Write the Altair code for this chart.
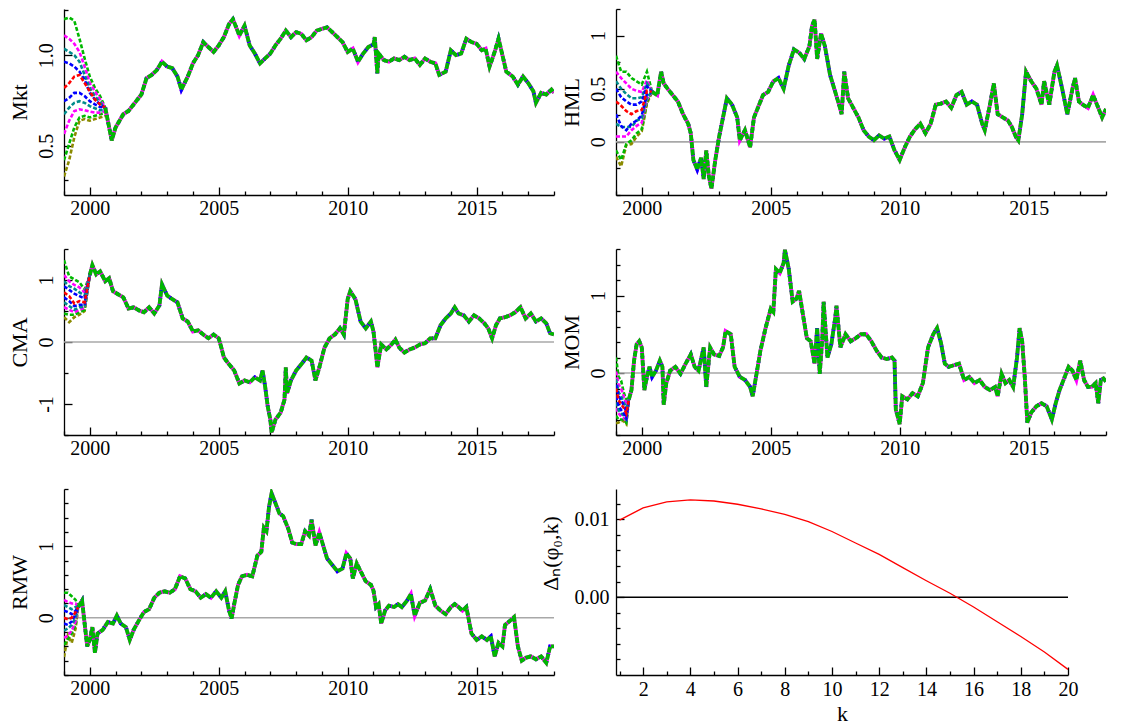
import altair as alt
import pandas as pd

FONT = "Liberation Serif"
GREEN = "#00b800"
MAGENTA = "#ff00ff"
TEAL = "#008b8b"
BLUE = "#0000ff"
RED = "#ff0000"
OLIVE = "#8b8b00"

# ---------------- Mkt ----------------
mkt_t = [2000.6, 2000.85, 2001.0, 2001.3, 2001.5, 2001.8, 2002.0, 2002.2, 2002.4, 2002.6, 2002.8, 2003.0, 2003.2,
         2003.4, 2003.55, 2003.8, 2004.0, 2004.2, 2004.4, 2004.6, 2004.8, 2005.0, 2005.2, 2005.4, 2005.55, 2005.8,
         2006.0, 2006.2, 2006.4, 2006.6, 2006.8, 2007.0, 2007.2, 2007.4, 2007.6, 2007.8, 2008.0, 2008.2, 2008.4,
         2008.6, 2008.8, 2009.0, 2009.2, 2009.4, 2009.6, 2009.8, 2010.0, 2010.2, 2010.4, 2010.6, 2010.8, 2011.0,
         2011.05, 2011.15, 2011.2, 2011.4, 2011.6, 2011.8, 2012.0, 2012.2, 2012.4, 2012.6, 2012.8, 2013.0, 2013.2,
         2013.4, 2013.55, 2013.8, 2014.0, 2014.2, 2014.4, 2014.6, 2014.8, 2015.0, 2015.2, 2015.35, 2015.5, 2015.7,
         2015.85, 2016.0, 2016.15, 2016.4, 2016.6, 2016.8, 2017.0, 2017.2, 2017.3, 2017.5, 2017.7, 2017.9, 2018.0]
mkt_v = [0.710, 0.529, 0.601, 0.674, 0.692, 0.746, 0.783, 0.873, 0.891, 0.918, 0.964, 0.937, 0.928,
         0.882, 0.810, 0.882, 0.955, 1.000, 1.072, 1.045, 1.018, 1.054, 1.100, 1.172, 1.199, 1.109,
         1.163, 1.054, 1.009, 0.955, 0.982, 1.009, 1.054, 1.091, 1.136, 1.100, 1.127, 1.118, 1.082,
         1.100, 1.136, 1.145, 1.154, 1.127, 1.100, 1.072, 1.018, 1.036, 0.964, 1.009, 1.045, 1.060,
         1.100, 0.900, 1.009, 0.973, 0.964, 0.982, 0.973, 0.991, 0.973, 0.982, 0.946, 0.982, 0.964,
         0.955, 0.891, 0.909, 1.027, 1.000, 1.009, 1.091, 1.072, 1.063, 1.027, 1.036, 0.937, 1.018,
         1.091, 1.000, 0.909, 0.882, 0.837, 0.882, 0.846, 0.801, 0.737, 0.792, 0.783, 0.810, 0.792]
mkt_early_t = [1999.0, 1999.2, 1999.4, 1999.6, 1999.8, 2000.0, 2000.2, 2000.4, 2000.6]
mkt_green_hi = [1.199, 1.208, 1.190, 1.091, 0.982, 0.882, 0.819, 0.774, 0.710]
mkt_magenta_hi = [1.109, 1.091, 1.063, 1.018, 0.937, 0.846, 0.801, 0.755, 0.710]
mkt_teal_hi = [1.036, 1.018, 1.000, 0.964, 0.891, 0.819, 0.774, 0.737, 0.710]
mkt_blue_hi = [0.964, 0.955, 0.937, 0.909, 0.864, 0.792, 0.755, 0.728, 0.710]
mkt_red = [0.819, 0.846, 0.882, 0.891, 0.846, 0.801, 0.755, 0.728, 0.710]
mkt_blue_lo = [0.746, 0.764, 0.792, 0.792, 0.774, 0.746, 0.728, 0.714, 0.710]
mkt_teal_lo = [0.674, 0.710, 0.737, 0.746, 0.737, 0.719, 0.707, 0.696, 0.696]
mkt_magenta_lo = [0.565, 0.638, 0.692, 0.701, 0.696, 0.688, 0.683, 0.683, 0.692]
mkt_green_lo = [0.420, 0.511, 0.601, 0.656, 0.665, 0.656, 0.665, 0.674, 0.683]
mkt_olive = [0.330, 0.420, 0.547, 0.638, 0.647, 0.638, 0.647, 0.656, 0.665]

# ---------------- HML ----------------
hml_t = [2000.4, 2000.6, 2000.75, 2000.85, 2001.0, 2001.2, 2001.4, 2001.6, 2001.8, 2001.9, 2002.0, 2002.15, 2002.3,
         2002.4, 2002.5, 2002.6, 2002.7, 2002.85, 2003.0, 2003.2, 2003.3, 2003.5, 2003.7, 2003.8, 2004.0, 2004.2,
         2004.35, 2004.5, 2004.7, 2004.9, 2005.1, 2005.3, 2005.5, 2005.7, 2005.9, 2006.1, 2006.3, 2006.5, 2006.6,
         2006.7, 2006.8, 2006.95, 2007.1, 2007.3, 2007.5, 2007.65, 2007.75, 2007.85, 2008.0, 2008.2, 2008.4,
         2008.6, 2008.8, 2009.0, 2009.2, 2009.4, 2009.6, 2009.8, 2010.0, 2010.2, 2010.4, 2010.6, 2010.8, 2011.0,
         2011.2, 2011.4, 2011.6, 2011.8, 2012.0, 2012.2, 2012.4, 2012.6, 2012.8, 2013.0, 2013.2, 2013.3, 2013.5,
         2013.65, 2013.8, 2014.0, 2014.2, 2014.35, 2014.5, 2014.6, 2014.75, 2014.9, 2015.1, 2015.3, 2015.5,
         2015.6, 2015.8, 2016.0, 2016.1, 2016.3, 2016.5, 2016.7, 2016.8, 2016.95, 2017.1, 2017.3, 2017.5,
         2017.7, 2017.85, 2018.0]
hml_v = [0.47, 0.44, 0.66, 0.55, 0.50, 0.44, 0.38, 0.26, 0.17, 0.08, -0.17, -0.26, -0.15,
         -0.35, -0.08, -0.32, -0.44, -0.17, 0.05, 0.29, 0.41, 0.35, 0.23, 0.015, 0.11, -0.05,
         0.23, 0.32, 0.44, 0.47, 0.57, 0.60, 0.50, 0.72, 0.87, 0.84, 0.78, 0.90, 1.09,
         1.15, 0.78, 1.02, 0.90, 0.63, 0.47, 0.35, 0.26, 0.66, 0.41, 0.32, 0.23,
         0.11, 0.05, 0.015, 0.06, 0.03, 0.05, -0.08, -0.17, -0.05, 0.05, 0.12, 0.17, 0.08,
         0.17, 0.35, 0.36, 0.38, 0.32, 0.44, 0.47, 0.35, 0.38, 0.35, 0.17, 0.11, 0.35,
         0.55, 0.26, 0.23, 0.20, 0.14, 0.05, 0.015, 0.26, 0.66, 0.57, 0.50, 0.35,
         0.57, 0.35, 0.66, 0.72, 0.50, 0.26, 0.50, 0.60, 0.38, 0.35, 0.32, 0.44,
         0.32, 0.23, 0.31]
hml_early_t = [1999.0, 1999.2, 1999.4, 1999.6, 1999.8, 2000.0, 2000.2, 2000.4]
hml_green_hi = [0.81, 0.66, 0.66, 0.60, 0.57, 0.54, 0.66, 0.47]
hml_magenta_hi = [0.66, 0.60, 0.55, 0.50, 0.48, 0.47, 0.58, 0.47]
hml_teal_hi = [0.57, 0.50, 0.45, 0.41, 0.41, 0.42, 0.55, 0.47]
hml_blue_hi = [0.50, 0.42, 0.38, 0.35, 0.35, 0.38, 0.52, 0.47]
hml_red = [0.38, 0.34, 0.29, 0.26, 0.29, 0.30, 0.48, 0.47]
hml_blue_lo = [0.26, 0.15, 0.11, 0.17, 0.20, 0.25, 0.45, 0.47]
hml_teal_lo = [0.17, 0.14, 0.14, 0.14, 0.20, 0.22, 0.42, 0.47]
hml_magenta_lo = [0.05, 0.05, 0.05, 0.11, 0.15, 0.18, 0.40, 0.47]
hml_green_lo = [-0.08, -0.17, -0.02, 0.015, 0.08, 0.12, 0.38, 0.47]
hml_olive = [-0.14, -0.23, -0.03, -0.02, 0.05, 0.10, 0.36, 0.47]

# ---------------- CMA ----------------
cma_t = [2000.0, 2000.1, 2000.25, 2000.4, 2000.6, 2000.75, 2000.9, 2001.1, 2001.3, 2001.5, 2001.7, 2001.9, 2002.1,
         2002.3, 2002.5, 2002.7, 2002.8, 2003.0, 2003.2, 2003.4, 2003.6, 2003.8, 2004.0, 2004.2, 2004.4, 2004.6,
         2004.8, 2005.0, 2005.1, 2005.2, 2005.4, 2005.6, 2005.8, 2006.0, 2006.2, 2006.4, 2006.6, 2006.7, 2006.8,
         2006.9, 2007.0, 2007.05, 2007.2, 2007.4, 2007.55, 2007.6, 2007.65, 2007.8, 2008.0, 2008.2, 2008.4,
         2008.6, 2008.75, 2008.9, 2009.1, 2009.3, 2009.5, 2009.7, 2009.85, 2010.0, 2010.1, 2010.3, 2010.5,
         2010.7, 2010.9, 2011.0, 2011.1, 2011.15, 2011.3, 2011.5, 2011.7, 2011.85, 2012.0, 2012.2, 2012.4,
         2012.6, 2012.8, 2013.0, 2013.2, 2013.4, 2013.6, 2013.8, 2014.0, 2014.15, 2014.3, 2014.5, 2014.7,
         2014.9, 2015.1, 2015.3, 2015.45, 2015.6, 2015.75, 2015.9, 2016.1, 2016.3, 2016.5, 2016.7, 2016.9,
         2017.1, 2017.3, 2017.5, 2017.7, 2017.85, 2018.0]
cma_v = [1.08, 1.24, 1.09, 1.14, 0.98, 1.03, 0.82, 0.77, 0.72, 0.54, 0.56, 0.51, 0.48,
         0.56, 0.46, 0.59, 0.93, 0.75, 0.69, 0.64, 0.38, 0.33, 0.17, 0.19, 0.12, 0.06,
         0.12, 0.06, -0.09, -0.25, -0.36, -0.46, -0.67, -0.62, -0.65, -0.57, -0.62, -0.46, -0.72,
         -1.04, -1.25, -1.46, -1.25, -1.14, -0.93, -0.41, -0.83, -0.62, -0.46, -0.36, -0.25,
         -0.30, -0.62, -0.41, -0.09, 0.06, 0.12, 0.22, 0.12, 0.69, 0.82, 0.69, 0.33,
         0.22, 0.33, 0.17, -0.20, -0.41, -0.04, -0.12, -0.04, 0.04, -0.09, -0.17, -0.12,
         -0.09, -0.04, -0.02, 0.06, 0.06, 0.27, 0.38, 0.46, 0.56, 0.46, 0.43, 0.33,
         0.43, 0.38, 0.30, 0.22, 0.06, 0.27, 0.38, 0.40, 0.43, 0.48, 0.56, 0.38,
         0.46, 0.33, 0.38, 0.30, 0.14, 0.12]
cma_early_t = [1999.0, 1999.2, 1999.4, 1999.6, 1999.8, 2000.0]
cma_green_hi = [1.32, 1.06, 1.01, 0.96, 0.85, 1.08]
cma_magenta_hi = [1.08, 0.98, 0.92, 0.88, 0.80, 1.08]
cma_teal_hi = [0.98, 0.90, 0.86, 0.80, 0.75, 1.08]
cma_blue_hi = [0.90, 0.84, 0.78, 0.74, 0.70, 1.08]
cma_red = [0.80, 0.74, 0.62, 0.66, 0.64, 1.08]
cma_blue_lo = [0.72, 0.66, 0.58, 0.60, 0.60, 1.08]
cma_teal_lo = [0.64, 0.58, 0.52, 0.56, 0.57, 1.08]
cma_magenta_lo = [0.56, 0.52, 0.48, 0.52, 0.55, 1.08]
cma_green_lo = [0.46, 0.44, 0.44, 0.48, 0.52, 1.08]
cma_olive = [0.40, 0.32, 0.40, 0.44, 0.50, 1.08]

# ---------------- MOM ----------------
mom_t = [1999.5, 1999.6, 1999.7, 1999.8, 1999.9, 2000.0, 2000.1, 2000.2, 2000.3, 2000.4, 2000.55, 2000.7, 2000.8,
         2000.85, 2000.95, 2001.1, 2001.3, 2001.5, 2001.7, 2001.9, 2002.05, 2002.2, 2002.4, 2002.5, 2002.65,
         2002.8, 2003.0, 2003.15, 2003.25, 2003.45, 2003.6, 2003.8, 2004.0, 2004.2, 2004.3, 2004.45, 2004.6,
         2004.8, 2005.0, 2005.1, 2005.2, 2005.35, 2005.5, 2005.55, 2005.7, 2005.85, 2006.0, 2006.1, 2006.25,
         2006.4, 2006.55, 2006.7, 2006.8, 2006.9, 2007.0, 2007.05, 2007.2, 2007.35, 2007.5, 2007.55, 2007.7,
         2007.9, 2008.1, 2008.3, 2008.5, 2008.7, 2008.9, 2009.1, 2009.3, 2009.5, 2009.7, 2009.8, 2009.85,
         2010.0, 2010.1, 2010.3, 2010.5, 2010.7, 2010.9, 2011.1, 2011.3, 2011.45, 2011.6, 2011.75, 2011.9,
         2012.1, 2012.3, 2012.5, 2012.7, 2012.9, 2013.1, 2013.3, 2013.5, 2013.7, 2013.8, 2013.95, 2014.1,
         2014.25, 2014.4, 2014.55, 2014.65, 2014.75, 2014.85, 2014.95, 2015.1, 2015.3, 2015.5, 2015.7, 2015.9,
         2016.05, 2016.2, 2016.4, 2016.55, 2016.7, 2016.85, 2017.0, 2017.15, 2017.3, 2017.45, 2017.6, 2017.7,
         2017.8, 2017.9, 2018.0]
mom_v = [-0.34, -0.22, 0.16, 0.37, 0.41, 0.33, -0.22, -0.05, 0.08, -0.05, 0.03, 0.16, 0.08,
         -0.41, -0.13, 0.03, 0.08, -0.01, 0.12, 0.24, 0.08, 0.03, 0.33, -0.18, 0.33,
         0.24, 0.22, 0.33, 0.54, 0.50, 0.08, -0.05, -0.09, -0.18, -0.30, -0.01, 0.29,
         0.58, 0.83, 0.79, 1.34, 1.29, 1.42, 1.59, 1.34, 0.92, 0.96, 1.06, 0.75,
         0.45, 0.41, 0.12, 0.58, -0.01, 0.45, 0.92, 0.20, 0.37, 0.71, 0.87, 0.33,
         0.50, 0.41, 0.45, 0.50, 0.50, 0.41, 0.29, 0.20, 0.18, 0.20, 0.16, -0.47,
         -0.66, -0.30, -0.34, -0.26, -0.30, -0.13, 0.33, 0.50, 0.58, 0.39, 0.12, 0.08,
         0.10, 0.12, -0.09, -0.05, -0.13, -0.09, -0.18, -0.22, -0.18, -0.30, -0.01, -0.13,
         -0.09, -0.18, 0.20, 0.58, 0.41, -0.05, -0.64, -0.51, -0.43, -0.39, -0.43, -0.60,
         -0.39, -0.22, -0.05, 0.08, 0.03, -0.09, 0.16, -0.09, -0.18, -0.18, -0.13, -0.39,
         -0.09, -0.07, -0.11]
mom_early_t = [1999.0, 1999.1, 1999.2, 1999.3, 1999.4, 1999.5]
mom_green_hi = [0.20, -0.05, -0.10, -0.25, -0.35, -0.34]
mom_magenta_hi = [0.02, -0.15, -0.20, -0.30, -0.40, -0.34]
mom_teal_hi = [-0.08, -0.25, -0.30, -0.38, -0.45, -0.34]
mom_blue_hi = [-0.15, -0.30, -0.35, -0.42, -0.50, -0.34]
mom_red = [-0.20, -0.35, -0.40, -0.45, -0.52, -0.34]
mom_blue_lo = [-0.30, -0.42, -0.48, -0.52, -0.58, -0.34]
mom_teal_lo = [-0.38, -0.48, -0.52, -0.55, -0.60, -0.34]
mom_magenta_lo = [-0.45, -0.52, -0.56, -0.58, -0.62, -0.34]
mom_green_lo = [-0.55, -0.60, -0.60, -0.60, -0.64, -0.34]
mom_olive = [-0.65, -0.64, -0.62, -0.62, -0.66, -0.34]

# ---------------- RMW ----------------
rmw_t = [1999.55, 1999.7, 1999.8, 1999.9, 2000.0, 2000.1, 2000.2, 2000.3, 2000.5, 2000.7, 2000.9, 2001.05, 2001.2,
         2001.4, 2001.55, 2001.7, 2001.9, 2002.1, 2002.3, 2002.5, 2002.7, 2002.9, 2003.1, 2003.3, 2003.5, 2003.7,
         2003.9, 2004.1, 2004.3, 2004.5, 2004.7, 2004.9, 2005.1, 2005.25, 2005.4, 2005.5, 2005.6, 2005.75, 2005.9,
         2006.1, 2006.3, 2006.5, 2006.65, 2006.75, 2006.85, 2006.95, 2007.05, 2007.2, 2007.35, 2007.5, 2007.7,
         2007.85, 2008.0, 2008.2, 2008.35, 2008.5, 2008.6, 2008.75, 2008.9, 2009.05, 2009.2, 2009.4, 2009.6,
         2009.8, 2009.95, 2010.1, 2010.2, 2010.35, 2010.5, 2010.7, 2010.9, 2011.0, 2011.1, 2011.2, 2011.3,
         2011.45, 2011.6, 2011.8, 2011.95, 2012.1, 2012.3, 2012.45, 2012.6, 2012.8, 2013.0, 2013.2, 2013.4,
         2013.6, 2013.8, 2014.0, 2014.15, 2014.3, 2014.45, 2014.6, 2014.8, 2015.0, 2015.2, 2015.4, 2015.55,
         2015.7, 2015.85, 2016.0, 2016.1, 2016.3, 2016.45, 2016.6, 2016.75, 2016.9, 2017.1, 2017.3, 2017.5,
         2017.7, 2017.85, 2018.0]
rmw_v = [0.15, 0.24, -0.08, -0.40, -0.31, -0.13, -0.49, -0.22, -0.17, -0.06, -0.08, 0.03, -0.08,
         -0.13, -0.31, -0.17, -0.04, 0.08, 0.12, 0.28, 0.35, 0.37, 0.35, 0.40, 0.58, 0.55,
         0.40, 0.37, 0.28, 0.33, 0.28, 0.37, 0.28, 0.37, 0.10, -0.01, 0.19, 0.46, 0.58,
         0.60, 0.58, 0.87, 0.92, 1.26, 1.21, 1.55, 1.74, 1.60, 1.46, 1.42, 1.24,
         1.05, 1.03, 1.03, 1.21, 1.15, 1.37, 1.01, 1.19, 1.01, 0.83, 0.74, 0.65,
         0.69, 0.90, 0.83, 0.55, 0.76, 0.65, 0.51, 0.46, 0.38, 0.15, 0.19, -0.08,
         0.10, 0.17, 0.15, 0.19, 0.15, 0.24, 0.33, 0.03, 0.21, 0.24, 0.40, 0.17,
         0.10, 0.05, 0.15, 0.19, 0.15, 0.10, 0.15, -0.22, -0.31, -0.26, -0.31, -0.26,
         -0.54, -0.35, -0.40, -0.10, -0.04, 0.01, -0.40, -0.60, -0.56, -0.54, -0.58, -0.54,
         -0.63, -0.40, -0.40]
rmw_early_t = [1999.0, 1999.15, 1999.3, 1999.45, 1999.55]
rmw_green_hi = [0.35, 0.35, 0.30, 0.25, 0.15]
rmw_magenta_hi = [0.25, 0.22, 0.20, 0.20, 0.15]
rmw_teal_hi = [0.18, 0.15, 0.12, 0.15, 0.15]
rmw_blue_hi = [0.10, 0.08, 0.05, 0.10, 0.15]
rmw_red = [0.00, -0.02, 0.00, 0.08, 0.15]
rmw_blue_lo = [-0.08, -0.10, -0.05, 0.05, 0.15]
rmw_teal_lo = [-0.18, -0.15, -0.10, 0.00, 0.15]
rmw_magenta_lo = [-0.28, -0.25, -0.18, -0.05, 0.15]
rmw_green_lo = [-0.38, -0.30, -0.22, -0.10, 0.15]
rmw_olive = [-0.55, -0.25, -0.35, -0.15, 0.15]

# ---------------- Delta_n(phi_0, k) ----------------
k_values = list(range(1, 21))
delta_values = [0.0099, 0.01148, 0.01224, 0.0125, 0.01236, 0.01194, 0.01135, 0.01063, 0.0097, 0.00844,
                0.00696, 0.00549, 0.0038, 0.00211, 0.0005, -0.00127, -0.00316, -0.00506, -0.00705, -0.00928]

# ---------------- axis tick values / labels ----------------
year_ticks = list(range(1999, 2019))
year_labels = {2000: "2000", 2005: "2005", 2010: "2010", 2015: "2015"}
k_ticks = list(range(1, 21))
k_labels = {2: "2", 4: "4", 6: "6", 8: "8", 10: "10", 12: "12", 14: "14", 16: "16", 18: "18", 20: "20"}
mkt_ticks = [0.31, 0.5, 1.0, 1.25]
mkt_labels = {0.5: "0.5", 1.0: "1.0"}
hml_ticks = [-0.5, -0.25, 0, 0.25, 0.5, 0.75, 1, 1.25]
hml_labels = {0: "0", 0.5: "0.5", 1: "1"}
cma_ticks = [-1.5, -1, -0.5, 0, 0.5, 1, 1.5]
cma_labels = {-1: "-1", 0: "0", 1: "1"}
mom_ticks = [-0.8, -0.6, -0.4, -0.2, 0, 0.2, 0.4, 0.6, 0.8, 1, 1.2, 1.4, 1.6]
mom_labels = {0: "0", 1: "1"}
rmw_ticks = [-0.8, -0.6, -0.4, -0.2, 0, 0.2, 0.4, 0.6, 0.8, 1, 1.2, 1.4, 1.6, 1.8]
rmw_labels = {0: "0", 1: "1"}
delta_ticks = [-0.008, -0.006, -0.004, -0.002, 0, 0.002, 0.004, 0.006, 0.008, 0.01, 0.012, 0.014]
delta_labels = {0: "0.00", 0.01: "0.01"}


def label_expr(labels):
    expr = "''"
    for val, txt in reversed(list(labels.items())):
        expr = f"datum.value == {val} ? '{txt}' : ({expr})"
    return expr


def major_test(labels):
    return "indexof([" + ",".join(str(v) for v in labels) + "], datum.value) >= 0"


def tick_size(labels, mode, big, small):
    if mode == "cond":
        return {"condition": {"test": major_test(labels), "value": -big}, "value": -small}
    if mode == "expr":
        return alt.ExprRef(expr=f"-{small + 1}")
    return small


def early_frame(times, series):
    rows = []
    for name, vals in series:
        for t, v in zip(times, vals):
            rows.append({"t": t, "v": v, "s": name})
    return pd.DataFrame(rows)


SERIES_NAMES = ["olive", "green_lo", "magenta_lo", "teal_lo", "blue_lo",
                "green_hi", "magenta_hi", "teal_hi", "blue_hi", "red"]
SERIES_COLORS = [OLIVE, GREEN, MAGENTA, TEAL, BLUE, GREEN, MAGENTA, TEAL, BLUE, RED]


def ts_panel(title, main_t, main_v, early_t, early, ydom, yticks, ylabels, zero, mode):
    xaxis = alt.Axis(values=year_ticks, labelExpr=label_expr(year_labels), title=None,
                     tickSize=tick_size(year_labels, mode, 8, 4), labelPadding=11,
                     labelFlush=False, labelOverlap=False)
    yaxis = alt.Axis(values=yticks, labelExpr=label_expr(ylabels), title=title,
                     tickSize=tick_size(ylabels, mode, 8, 4), labelAngle=270,
                     labelAlign="center", labelBaseline="alphabetic", labelPadding=20,
                     labelFlush=False, labelOverlap=False,
                     minExtent=30, maxExtent=30, titlePadding=8, titleBaseline="alphabetic",
                     titleAngle=270)
    xenc = alt.X("t:Q", scale=alt.Scale(domain=[1999, 2018], nice=False, zero=False), axis=xaxis)
    yenc = alt.Y("v:Q", scale=alt.Scale(domain=ydom, nice=False, zero=False), axis=yaxis)
    layers = []
    if zero:
        layers.append(alt.Chart(pd.DataFrame({"v": [0.0]})).mark_rule(
            color="#a8a8a8", strokeWidth=1.6).encode(y=yenc))
    edf = early_frame(early_t, early)
    layers.append(alt.Chart(edf).mark_line(strokeWidth=2.6, strokeDash=[4, 2], clip=True).encode(
        x=xenc, y=yenc,
        color=alt.Color("s:N", scale=alt.Scale(domain=SERIES_NAMES, range=SERIES_COLORS), legend=None)))
    mdf = pd.DataFrame({"t": main_t, "v": main_v})
    base = alt.Chart(mdf).encode(x=xenc, y=yenc)
    layers.append(base.mark_line(color=MAGENTA, strokeWidth=3.8, clip=True))
    layers.append(base.mark_line(color=BLUE, strokeWidth=3.8, strokeDash=[1.5, 6], clip=True))
    layers.append(base.mark_line(color=GREEN, strokeWidth=3.8, strokeDash=[6, 1.2], clip=True))
    return alt.layer(*layers).properties(width=490, height=186)


def early_list(prefix):
    g = globals()
    return [(n, g[f"{prefix}_{n}"]) for n in SERIES_NAMES]


def delta_panel(mode):
    xaxis = alt.Axis(values=k_ticks, labelExpr=label_expr(k_labels), title="k",
                     tickSize=tick_size(k_labels, mode, 8, 4), labelPadding=12, titlePadding=0,
                     labelFlush=False, labelOverlap=False)
    yaxis = alt.Axis(values=delta_ticks, labelExpr=label_expr(delta_labels), title="Δₙ(φ₀,k)",
                     tickSize=tick_size(delta_labels, mode, 8, 4), labelPadding=15,
                     labelFlush=False, labelOverlap=False,
                     minExtent=45, maxExtent=45, titlePadding=14, titleBaseline="alphabetic",
                     titleAngle=270, titleY=64)
    xenc = alt.X("k:Q", scale=alt.Scale(domain=[0.85, 20], nice=False, zero=False), axis=xaxis)
    yenc = alt.Y("d:Q", scale=alt.Scale(domain=[-0.01, 0.0139], nice=False, zero=False), axis=yaxis)
    zero = alt.Chart(pd.DataFrame({"d": [0.0]})).mark_rule(color="black", strokeWidth=1.5).encode(y=yenc)
    df = pd.DataFrame({"k": k_values, "d": delta_values})
    line = alt.Chart(df).mark_line(color=RED, strokeWidth=1.3).encode(x=xenc, y=yenc)
    return alt.layer(zero, line).properties(width=452, height=186)


def build(mode):
    p1 = ts_panel("Mkt", mkt_t, mkt_v, mkt_early_t, early_list("mkt"), [0.228, 1.255],
                  mkt_ticks, mkt_labels, False, mode)
    p2 = ts_panel("HML", hml_t, hml_v, hml_early_t, early_list("hml"), [-0.5, 1.25],
                  hml_ticks, hml_labels, True, mode)
    p3 = ts_panel("CMA", cma_t, cma_v, cma_early_t, early_list("cma"), [-1.5, 1.5],
                  cma_ticks, cma_labels, True, mode)
    p4 = ts_panel("MOM", mom_t, mom_v, mom_early_t, early_list("mom"), [-0.8, 1.6],
                  mom_ticks, mom_labels, True, mode)
    p5 = ts_panel("RMW", rmw_t, rmw_v, rmw_early_t, early_list("rmw"), [-0.8, 1.8],
                  rmw_ticks, rmw_labels, True, mode)
    p6 = delta_panel(mode)
    chart = alt.concat(p1, p2, p3, p4, p5, p6, columns=2, spacing={"row": 54, "column": 62},
                       bounds="flush").properties(
        padding={"left": 0, "top": 0, "right": 5, "bottom": 2}, background="white"
    ).configure_view(stroke=None).configure_axis(
        domainColor="black", tickColor="black", labelColor="black", titleColor="black",
        labelFont=FONT, titleFont=FONT, labelFontSize=20, titleFontSize=22,
        titleFontWeight="normal", grid=False, domainWidth=1.3, tickWidth=1.3)
    return chart


chart = None
for m in ("cond", "expr", "plain"):
    try:
        c = build(m)
        c.to_dict()
        chart = c
        break
    except Exception:
        continue

chart.save("out.html", embed_options={"renderer": "svg", "actions": False})
